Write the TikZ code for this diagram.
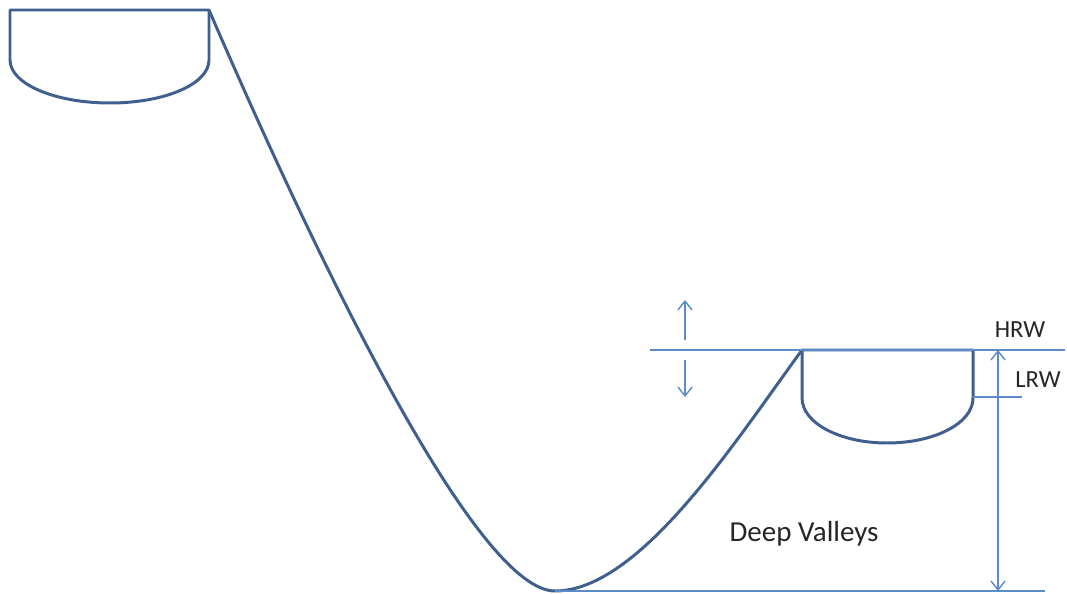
\documentclass[tikz,border=0pt]{standalone}
\usepackage{fontspec}
\setmainfont{Carlito}
\usetikzlibrary{arrows.meta}
\definecolor{pipeblue}{HTML}{3F5F8F}
\definecolor{lineblue}{HTML}{5B8BC9}
\definecolor{txtgray}{HTML}{262626}
\tikzset{
  reservoir/.style={
    draw=pipeblue, line width=1.7pt, line join=round
  },
  penstock/.style={
    draw=pipeblue, line width=1.7pt
  },
  levelline/.style={
    draw=lineblue, line width=0.8pt
  },
  levelarrow/.style={
    levelline, -{Straight Barb[length=5pt,width=8pt]}
  },
  labelnode/.style={
    font=\fontsize{#1}{18}\selectfont, text=txtgray, inner sep=0pt
  },
  labelnode/.default=14,
}

\begin{document}
\begin{tikzpicture}[x=0.02cm, y=-0.02cm]
  \useasboundingbox (0,0) rectangle (1067,594);
  % Reservoir corners and valley floor
  \coordinate (utl) at (10,10);
  \coordinate (utr) at (209,10);
  \coordinate (ltl) at (802,350);
  \coordinate (ltr) at (973,350);
  \coordinate (bot) at (555,591);
  % Upper reservoir
  \draw[reservoir] (utl) -- (utr) -- (209,60)
    .. controls (209,84) and (165,103) .. (110,103)
    .. controls (55,103) and (10,84) .. (10,60) -- cycle;
  % Lower reservoir
  \draw[reservoir] (ltl) -- (ltr) -- (973,398)
    .. controls (973,423) and (935,443) .. (887,443)
    .. controls (840,443) and (802,423) .. (802,398) -- cycle;
  % Penstock through the valley
  \draw[penstock] (utr) .. controls (330,290) and (480,591) .. (bot)
    .. controls (640,591) and (736,440) .. (ltl);
  % Water levels
  \coordinate (hrwL) at (650,350);
  \coordinate (hrwR) at (1065,350);
  \coordinate (botR) at (1045,591);
  \coordinate (lrwL) at (973,397);
  \coordinate (lrwR) at (1022,397);
  \draw[levelline] (hrwL) -- (hrwR);
  \draw[levelline] (bot) -- (botR);
  \draw[levelline] (lrwL) -- (lrwR);
  % Level swing arrows
  \coordinate (upA) at (685,340);
  \coordinate (upB) at (685,300);
  \coordinate (dnA) at (685,360);
  \coordinate (dnB) at (685,397);
  \draw[levelarrow] (upA) -- (upB);
  \draw[levelarrow] (dnA) -- (dnB);
  % Head
  \coordinate (headT) at (998,350);
  \coordinate (headB) at (998,591);
  \draw[levelline, {Straight Barb[length=5pt,width=8pt]}-{Straight Barb[length=5pt,width=8pt]}] (headB) -- (headT);
  % Labels
  \node[labelnode] (hrw) at (1020,330) {HRW};
  \node[labelnode] (lrw) at (1038,380) {LRW};
  \node[labelnode=16.5] (deep) at (804,534) {Deep Valleys};
\end{tikzpicture}
\end{document}
